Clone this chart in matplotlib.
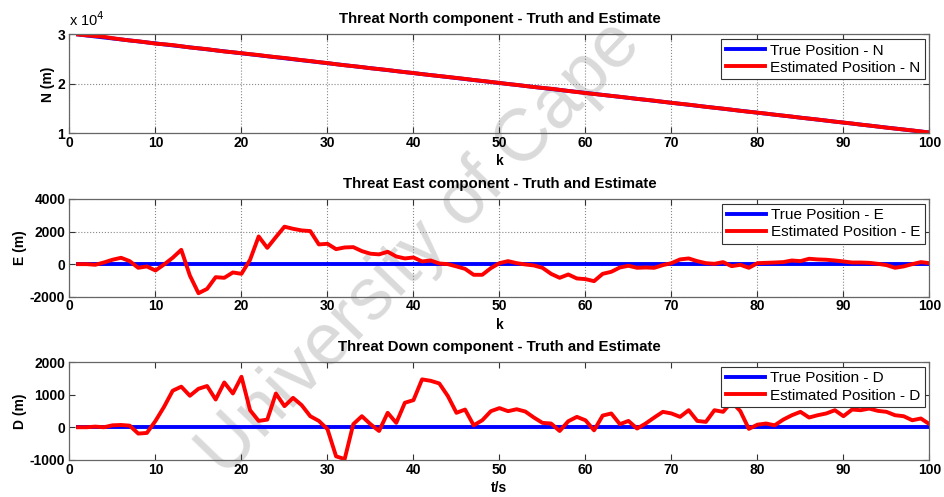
import numpy as np
import matplotlib.pyplot as plt
from matplotlib.ticker import FuncFormatter

plt.rcParams['font.family'] = ['Liberation Sans', 'DejaVu Sans']
plt.rcParams['axes.unicode_minus'] = False

# time step index
k = list(range(1, 101))

# North component (m)
n_true = [30000, 29800, 29600, 29400, 29200, 29000, 28800, 28600, 28400, 28200,
          28000, 27800, 27600, 27400, 27200, 27000, 26800, 26600, 26400, 26200,
          26000, 25800, 25600, 25400, 25200, 25000, 24800, 24600, 24400, 24200,
          24000, 23800, 23600, 23400, 23200, 23000, 22800, 22600, 22400, 22200,
          22000, 21800, 21600, 21400, 21200, 21000, 20800, 20600, 20400, 20200,
          20000, 19800, 19600, 19400, 19200, 19000, 18800, 18600, 18400, 18200,
          18000, 17800, 17600, 17400, 17200, 17000, 16800, 16600, 16400, 16200,
          16000, 15800, 15600, 15400, 15200, 15000, 14800, 14600, 14400, 14200,
          14000, 13800, 13600, 13400, 13200, 13000, 12800, 12600, 12400, 12200,
          12000, 11800, 11600, 11400, 11200, 11000, 10800, 10600, 10400, 10200]
n_est = [30000, 29830, 29690, 29540, 29250, 29020, 28790, 28630, 28400, 28160,
         28020, 27860, 27630, 27380, 27210, 27040, 26800, 26570, 26410, 26220,
         26030, 25850, 25620, 25430, 25260, 25050, 24830, 24640, 24420, 24230,
         23990, 23780, 23610, 23420, 23180, 23010, 22830, 22600, 22390, 22220,
         21990, 21790, 21610, 21420, 21230, 21030, 20810, 20620, 20420, 20210,
         19990, 19820, 19600, 19390, 19210, 19040, 18820, 18590, 18380, 18170,
         17980, 17790, 17600, 17420, 17210, 16990, 16820, 16630, 16410, 16200,
         16010, 15830, 15610, 15390, 15200, 15020, 14810, 14580, 14390, 14210,
         14020, 13800, 13610, 13420, 13190, 13010, 12820, 12610, 12390, 12210,
         12020, 11790, 11610, 11400, 11180, 10990, 10810, 10620, 10410, 10200]

# East component (m)
e_true = [0] * 100
e_est = [0, 0, -40, 100, 270, 390, 185, -225, -140, -390,
         -20, 390, 880, -700, -1785, -1520, -800, -840, -510, -595,
         270, 1700, 1000, 1660, 2300, 2170, 2070, 2030, 1210, 1250,
         920, 1025, 1045, 800, 640, 600, 760, 470, 350, 410,
         165, 225, 40, 0, -140, -290, -655, -655, -245, 60,
         185, 60, -20, -80, -225, -595, -840, -635, -880, -920,
         -1045, -595, -470, -205, -100, -225, -205, -225, -60, 60,
         290, 350, 185, 60, 20, 125, -125, -40, -225, 60,
         80, 100, 125, 225, 185, 330, 290, 270, 225, 165,
         100, 100, 80, 20, -60, -225, -140, 0, 125, 60]

# Down component (m)
d_true = [0] * 100
d_est = [0, 0, 20, 0, 60, 70, 50, -195, -175, 195,
         630, 1125, 1250, 970, 1185, 1270, 855, 1380, 1040, 1555,
         525, 195, 235, 1040, 650, 905, 680, 340, 195, -60,
         -895, -980, 95, 340, 95, -115, 445, 135, 755, 835,
         1475, 1430, 1350, 960, 445, 545, 60, 215, 495, 590,
         495, 555, 485, 300, 135, 115, -115, 185, 320, 215,
         -95, 360, 425, 95, 195, -40, 115, 300, 475, 425,
         320, 525, 195, 165, 525, 475, 780, 500, -50, 80,
         115, 60, 235, 370, 475, 300, 370, 425, 525, 340,
         545, 525, 575, 505, 475, 370, 340, 215, 270, 95]

fig = plt.figure(figsize=(9.44, 4.97), dpi=100)

left, width = 0.0736, 0.911
ax_n = fig.add_axes([left, 0.7314, width, 0.1992])
ax_e = fig.add_axes([left, 0.403, width, 0.1966])
ax_d = fig.add_axes([left, 0.075, width, 0.196])

panels = [
    (ax_n, n_true, n_est, 'N', 'North', 'k', True),
    (ax_e, e_true, e_est, 'E', 'East', 'k', True),
    (ax_d, d_true, d_est, 'D', 'Down', 't/s', False),
]

for ax, tru, est, tag, name, xl, grid in panels:
    ax.set_facecolor('none')
    ax.plot(k, tru, color='blue', lw=2.8, label='True Position - ' + tag)
    ax.plot(k, est, color='red', lw=2.8, label='Estimated Position - ' + tag)
    ax.set_xlim(0, 100)
    ax.set_xticks(range(0, 101, 10))
    ax.tick_params(direction='in', top=True, right=True, length=4,
                   width=0.8, color='#333333', labelsize=10)
    ax.tick_params(axis='x', pad=2)
    ax.tick_params(axis='y', pad=3)
    for lab in ax.get_xticklabels() + ax.get_yticklabels():
        lab.set_fontweight('bold')
    for sp in ax.spines.values():
        sp.set_color('#666666')
        sp.set_linewidth(0.9)
    if grid:
        ax.grid(True, linestyle=':', color='#888888', lw=0.8)
    ax.set_xlabel(xl, fontsize=10, fontweight='bold', labelpad=3)
    ax.set_ylabel(tag + ' (m)', fontsize=10, fontweight='bold', labelpad=2)
    ax.set_title('Threat ' + name + ' component - Truth and Estimate',
                 fontsize=10.8, fontweight='bold', pad=8)
    leg = ax.legend(loc='upper right', fontsize=11, fancybox=False,
                    framealpha=1, edgecolor='#333333', handlelength=2.6,
                    borderpad=0.3, labelspacing=0.2, handletextpad=0.3,
                    borderaxespad=0.3)
    leg.get_frame().set_linewidth(0.8)

ax_n.set_ylim(10000, 30000)
ax_n.set_yticks([10000, 20000, 30000])
ax_n.yaxis.set_major_formatter(FuncFormatter(lambda v, p: '%d' % round(v / 1e4)))
for lab in ax_n.get_yticklabels():
    lab.set_fontweight('bold')
ax_n.text(0.0, 1.06, r'x 10$^4$', transform=ax_n.transAxes, fontsize=10.5,
          ha='left', va='bottom')

ax_e.set_ylim(-2000, 4000)
ax_e.set_yticks([-2000, 0, 2000, 4000])
ax_d.set_ylim(-1000, 2000)
ax_d.set_yticks([-1000, 0, 1000, 2000])

# faint diagonal watermark behind the traces
fig.text(0.445, 0.5, 'University of Cape', fontsize=53, color='#dadada',
         rotation=46, ha='center', va='center', zorder=-1)

plt.savefig('out.png', dpi=100)
